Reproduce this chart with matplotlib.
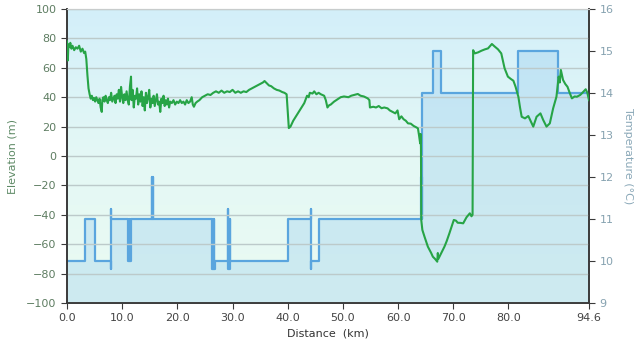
import numpy as np
import matplotlib
matplotlib.use("Agg")
import matplotlib.pyplot as plt
from matplotlib.colors import LinearSegmentedColormap

# elevation profile (km, m)
elev_km = [0.0, 0.1, 0.15, 0.25, 0.4, 0.6, 0.8, 1.0, 1.3, 1.6, 1.9, 2.2, 2.5, 2.8, 3.1, 3.3,
           3.5, 3.7, 3.9, 4.1, 4.3, 4.5, 4.7, 4.9, 5.1, 5.3, 5.5, 5.7, 5.9, 6.1, 6.3, 6.4,
           6.6, 6.8, 7.0, 7.2, 7.4, 7.6, 7.8, 8.0, 8.2, 8.4, 8.6, 8.8, 9.0, 9.2, 9.4, 9.6,
           9.8, 10.0, 10.2, 10.4, 10.6, 10.8, 11.0, 11.2, 11.4, 11.6, 11.7, 11.9, 12.1, 12.3,
           12.5, 12.7, 12.9, 13.1, 13.3, 13.5, 13.7, 13.9, 14.1, 14.3, 14.5, 14.7, 14.9, 15.1,
           15.3, 15.5, 15.7, 15.9, 16.1, 16.3, 16.5, 16.7, 16.9, 17.1, 17.3, 17.5, 17.7, 17.9,
           18.1, 18.3, 18.5, 18.7, 19.0, 19.3, 19.6, 19.9, 20.2, 20.5, 20.8, 21.1, 21.4, 21.7,
           22.0, 22.3, 22.6, 22.8, 23.0, 23.3, 23.6, 24.0, 24.5, 25.0, 25.5, 26.0, 26.5, 27.0,
           27.5, 28.0, 28.5, 29.0, 29.5, 30.0, 30.5, 31.0, 31.5, 32.0, 32.5, 33.0, 33.5, 34.0,
           34.5, 35.0, 35.5, 35.8, 36.2, 36.6, 37.0, 37.5, 38.0, 38.5, 39.0, 39.4, 39.8, 40.0,
           40.2, 40.5, 41.0, 41.5, 42.0, 42.5, 43.0, 43.5, 43.8, 44.0, 44.5, 44.8, 45.2, 45.6,
           46.0, 46.6, 46.9, 47.2, 47.5, 47.8, 48.4, 49.0, 49.6, 50.2, 51.0, 51.5, 52.0, 52.7,
           53.2, 53.8, 54.5, 54.8, 54.9, 55.5, 56.0, 56.5, 57.0, 57.5, 58.1, 58.5, 59.0, 59.5,
           59.9, 60.2, 60.6, 61.0, 61.4, 61.8, 62.3, 62.8, 63.3, 63.6, 63.8, 64.0, 64.1, 64.15,
           64.2, 64.4, 64.8, 65.4, 66.0, 66.3, 66.7, 67.1, 67.2, 67.3, 67.8, 68.4, 68.8, 69.3,
           69.7, 70.1, 70.5, 70.8, 71.3, 71.8, 72.4, 73.0, 73.3, 73.5, 73.6, 73.9, 74.5, 75.1,
           75.7, 76.3, 77.0, 77.5, 78.1, 78.7, 79.3, 79.9, 80.4, 80.9, 81.3, 81.8, 82.1, 82.4,
           83.0, 83.6, 84.0, 84.5, 85.1, 85.8, 86.3, 86.9, 87.5, 88.1, 88.7, 89.1, 89.3, 89.5,
           89.9, 90.3, 90.7, 91.1, 91.5, 92.0, 92.4, 93.0, 93.3, 94.0, 94.3, 94.6]
elev_m = [78, 72, 65, 76, 74, 77, 73, 75, 72, 74, 73, 75, 71, 73, 70, 71,
          66, 55, 46, 42, 39, 41, 38, 39.5, 37, 40, 38, 36, 39, 33, 30, 38,
          40, 37, 41, 38, 36, 40, 38, 43, 37, 39, 41, 36, 42, 39, 45, 37,
          47, 40, 36, 42, 38, 44, 38, 35, 47, 54, 38, 45, 33, 41,
          39, 46, 35, 42, 37, 44, 34, 40, 31, 43, 36, 40, 45, 33,
          39, 36, 41, 34, 38, 42, 35, 37, 30, 39, 36, 41, 34, 38,
          35, 39, 33, 37, 36, 38, 35, 37, 36, 38, 36, 37, 35, 38,
          36, 37, 40, 35, 33.5, 36, 37, 38, 40, 41, 42, 41.5, 43, 44,
          43, 44.5, 43, 44, 43.5, 45, 43, 44, 43, 44, 43.5, 45, 46, 47,
          48, 49, 50, 51, 49.5, 48, 47.5, 46, 45, 44.5, 43.5, 43, 42, 30,
          19, 20, 24, 27, 30, 33, 36, 41, 40, 43, 42.5, 44, 42, 43,
          42, 41, 38, 33, 34.5, 35, 37, 38.5, 40, 40.5, 40, 41, 41.5, 42.2,
          41, 40.5, 39.2, 38, 33, 33.5, 33, 34, 32.5, 33, 32.4, 31, 30, 29,
          31, 25, 27, 25, 24, 22.2, 22, 20.5, 19.5, 18.8, 14, 8.6, 15, 5,
          -43.5, -50.3, -55, -61.7, -66, -68.5, -70, -71.9, -66, -70, -66.2, -61.7, -58, -52.6,
          -48, -43.5, -44, -45.4, -45.5, -45.8, -41.7, -39.0, -41, -40, 72, 69.8, 70.5, 71.6,
          72.5, 73.2, 76.2, 74.5, 72.6, 69.8, 59.7, 54.0, 52.5, 51.2, 47, 40.3, 33, 26.7,
          25.6, 27.2, 24, 20.0, 26.7, 29.0, 24.5, 20.0, 22.2, 32.4, 40.3, 54.0, 50, 58.5,
          51.7, 49, 47.1, 43, 39.2, 40.5, 40.3, 41.5, 42.6, 45.4, 43, 38]

# temperature steps (km where the value starts, degC)
temp_km = [0, 3.3, 5.0, 7.95, 8.0, 8.05, 11.1, 11.2, 11.25, 11.35, 11.4, 11.55,
           15.35, 15.45, 15.5, 15.6, 26.3, 26.4, 26.45, 26.55, 26.6, 26.75,
           29.1, 29.15, 29.45, 29.5, 40.0, 44.15, 44.2, 44.3, 45.7,
           64.2, 64.3, 64.4, 66.4, 67.8, 81.8, 89.0, 94.6]
temp_c = [10, 11, 10, 9.8, 11.25, 11, 10, 11, 10, 11, 10, 11,
          12, 11, 12, 11, 9.8, 11, 9.8, 11, 9.8, 10,
          11.25, 9.8, 11, 10, 11, 11.25, 9.8, 10, 11,
          12, 11, 14, 15, 14, 15, 14, 14]

elev_ticks = list(range(-100, 101, 20))
temp_ticks = list(range(9, 17))
dist_ticks = [0, 10, 20, 30, 40, 50, 60, 70, 80, 94.6]
dist_labels = ["0.0", "10.0", "20.0", "30.0", "40.0", "50.0", "60.0", "70.0", "80.0", "94.6"]

fig = plt.figure(figsize=(6.4, 3.49), dpi=100)
ax2 = fig.add_axes([67 / 640, 46 / 349, 522 / 640, 294 / 349])
ax = ax2.twinx()
ax.yaxis.tick_left()
ax.yaxis.set_label_position("left")
ax2.yaxis.tick_right()
ax2.yaxis.set_label_position("right")

# background gradient (light blue at top to mint)
bg = LinearSegmentedColormap.from_list("bg", ["#eafbf2", "#e4f8f5", "#d3effa"])
grad = np.linspace(0, 1, 256).reshape(-1, 1)
ax2.imshow(grad, cmap=bg, origin="lower", extent=[0, 1, 0, 1], aspect="auto",
           transform=ax2.transAxes, zorder=0)

blue = "#5aa5de"
ax2.fill_between(temp_km, temp_c, 9, step="post", color="#7bbcec", alpha=0.25,
                 linewidth=0, zorder=1)
ax2.plot(temp_km, temp_c, drawstyle="steps-post", color=blue, lw=1.6, zorder=2)
ax2.set_ylim(9, 16)
ax2.set_xlim(0, 94.6)
ax2.set_yticks(temp_ticks)

# elevation on top of temperature
ax.set_zorder(ax2.get_zorder() + 1)
ax.patch.set_visible(False)
ax.plot(elev_km, elev_m, color="#27a446", lw=1.5, zorder=3)
ax.set_ylim(-100, 100)
ax.set_yticks(elev_ticks)
ax.grid(axis="y", color="#bccaca", lw=1)
ax.set_axisbelow(True)

ax2.set_xticks(dist_ticks)
ax2.set_xticklabels(dist_labels)

for a in (ax, ax2):
    a.spines["top"].set_color("#c8cccc")
    for s in ("left", "right", "bottom"):
        a.spines[s].set_color("#3a3a3a")
        a.spines[s].set_linewidth(1.2)

ax.tick_params(axis="y", labelsize=8, labelcolor="#5e7d62", color="#3a3a3a", length=4)
ax2.tick_params(axis="y", labelsize=8, labelcolor="#86a2b0", color="#3a3a3a", length=4)
ax2.tick_params(axis="x", labelsize=8, labelcolor="#444444", color="#3a3a3a", length=4)

ax.set_ylabel("Elevation (m)", fontsize=8, color="#5e8a66", labelpad=6)
ax2.set_ylabel("Temperature (°C)", fontsize=8, color="#8aa8b8", rotation=270, labelpad=14)
ax2.set_xlabel("Distance  (km)", fontsize=8, color="#333333", labelpad=4)

fig.savefig("out.png", dpi=100)
